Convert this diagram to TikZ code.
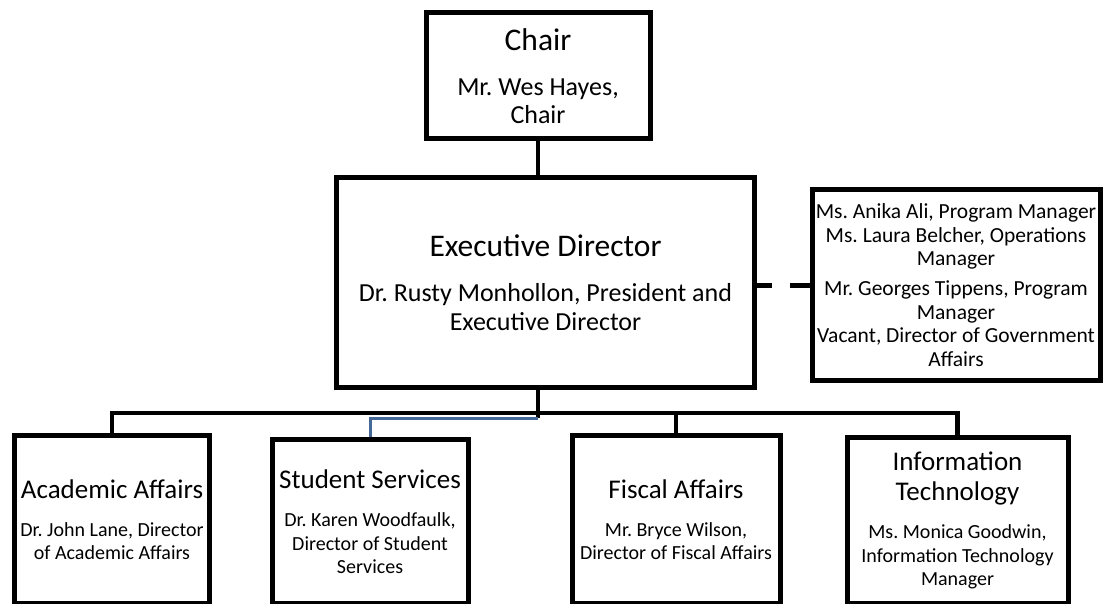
\documentclass[tikz,border=0pt]{standalone}
\usepackage{fontspec}
\setmainfont{Carlito}
\frenchspacing
\newcommand{\ttlA}{\fontsize{31.5}{36}\selectfont}
\newcommand{\subA}{\fontsize{26}{28.5}\selectfont}
\newcommand{\ttlB}{\fontsize{27}{30}\selectfont}
\newcommand{\subB}{\fontsize{20}{23.5}\selectfont}
\newcommand{\staff}{\fontsize{21.5}{23.5}\selectfont}
\definecolor{linkblue}{RGB}{68,104,152}
\tikzset{
    orgbox/.style={draw, line width=5pt, rectangle, inner sep=0pt, align=flush center},
    link/.style={line width=4.5pt},
}
\begin{document}
\begin{tikzpicture}[x=1pt,y=-1pt]
    \useasboundingbox (0,0) rectangle (1110,604);
    \node[orgbox, minimum width=224pt, minimum height=126pt, text width=220pt] (chair) at (538,76)
        {{\ttlA Chair\par}\vspace{16.5pt}\subA Mr. Wes Hayes,\par Chair\par};
    \node[orgbox, minimum width=418pt, minimum height=210pt, text width=412pt] (exec) at (545.5,282.5)
        {{\ttlA Executive Director\par}\vspace{16.5pt}\subA Dr. Rusty Monhollon, President and\par Executive Director\par};
    \node[orgbox, minimum width=288pt, minimum height=190pt, text width=288pt] (staff) at (956,285)
        {\staff Ms. Anika Ali, Program Manager\par Ms. Laura Belcher, Operations\par Manager\par\vspace{6.5pt}
        Mr. Georges Tippens, Program\par Manager\par Vacant, Director of Government\par Affairs\par};
    \node[orgbox, minimum width=195pt, minimum height=168pt, text width=193pt] (acad) at (112,519.5)
        {{\ttlB Academic Affairs\par}\vspace{14.5pt}\subB Dr. John Lane, Director\par of Academic Affairs\par};
    \node[orgbox, minimum width=196pt, minimum height=164pt, text width=194pt] (stud) at (370,521.5)
        {{\ttlB Student Services\par}\vspace{15pt}\subB Dr. Karen Woodfaulk,\par Director of Student\par Services\par};
    \node[orgbox, minimum width=208pt, minimum height=168pt, text width=204pt] (fisc) at (676,519.5)
        {{\ttlB Fiscal Affairs\par}\vspace{14.5pt}\subB Mr. Bryce Wilson,\par Director of Fiscal Affairs\par};
    \node[orgbox, minimum width=221pt, minimum height=166pt, text width=217pt] (it) at (957.5,520.5)
        {{\ttlB Information\par Technology\par}\vspace{15pt}\subB Ms. Monica Goodwin,\par Information Technology\par Manager\par};
    \coordinate (hub) at (538,413);
    \coordinate (bluehub) at (538,418);
    \draw[link] (chair.south) -- (chair.south |- exec.north);
    \draw[link] (exec.south -| hub) -- (bluehub);
    \draw[link] (acad.north) -- (acad.north |- hub) -- (it.north |- hub) -- (it.north);
    \draw[link] (fisc.north |- hub) -- (fisc.north);
    \draw[link, linkblue, line width=3pt] (bluehub) -| (stud.north);
    \draw[link, line width=5pt, dash pattern=on 15pt off 18pt on 30pt] (exec.east |- staff.west) -- (staff.west);
\end{tikzpicture}
\end{document}
